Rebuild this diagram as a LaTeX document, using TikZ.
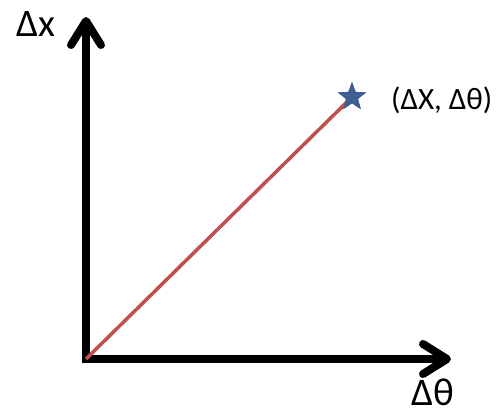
\documentclass[tikz,border=0pt]{standalone}
\usepackage{fontspec}
\setmainfont{Carlito}
\usetikzlibrary{arrows.meta, shapes.geometric}
\definecolor{pathred}{HTML}{C0504D}
\definecolor{starblue}{HTML}{3D5F94}

\begin{document}
\begin{tikzpicture}[
            x=1pt, y=-1pt,
            axis/.style={line width=8pt, line join=miter,
                {Straight Barb[length=24pt, width=30pt, round]}-{Straight Barb[length=24pt, width=30pt, round]}},
            diagline/.style={pathred, line width=3.5pt},
            starmark/.style={star, star points=5, star point ratio=2.4, fill=starblue, minimum size=30pt, inner sep=0pt},
            axislabel/.style={font=\fontsize{39}{41}\selectfont, inner sep=0pt},
            pointlabel/.style={font=\fontsize{31}{33}\selectfont, inner sep=0pt, anchor=west}
        ]
            \useasboundingbox (0,0) rectangle (499,415);

            % axes
            \coordinate (origin) at (86, 359);
            \coordinate (xtip) at (86, 17);
            \coordinate (ttip) at (451, 359);
            \draw[axis] (xtip) -- (origin) -- (ttip);

            % axis labels
            \node[axislabel] (xlabel) at (36, 24) {Δx};
            \node[axislabel] (tlabel) at (433, 392) {Δθ};

            % target point
            \node[starmark] (target) at (352, 97) {};
            \node[pointlabel] (targetlabel) at (391, 100) {(ΔX, Δθ)};
            \draw[diagline] (origin) -- (target.center);
            \node[starmark] at (target) {};
        \end{tikzpicture}
\end{document}
